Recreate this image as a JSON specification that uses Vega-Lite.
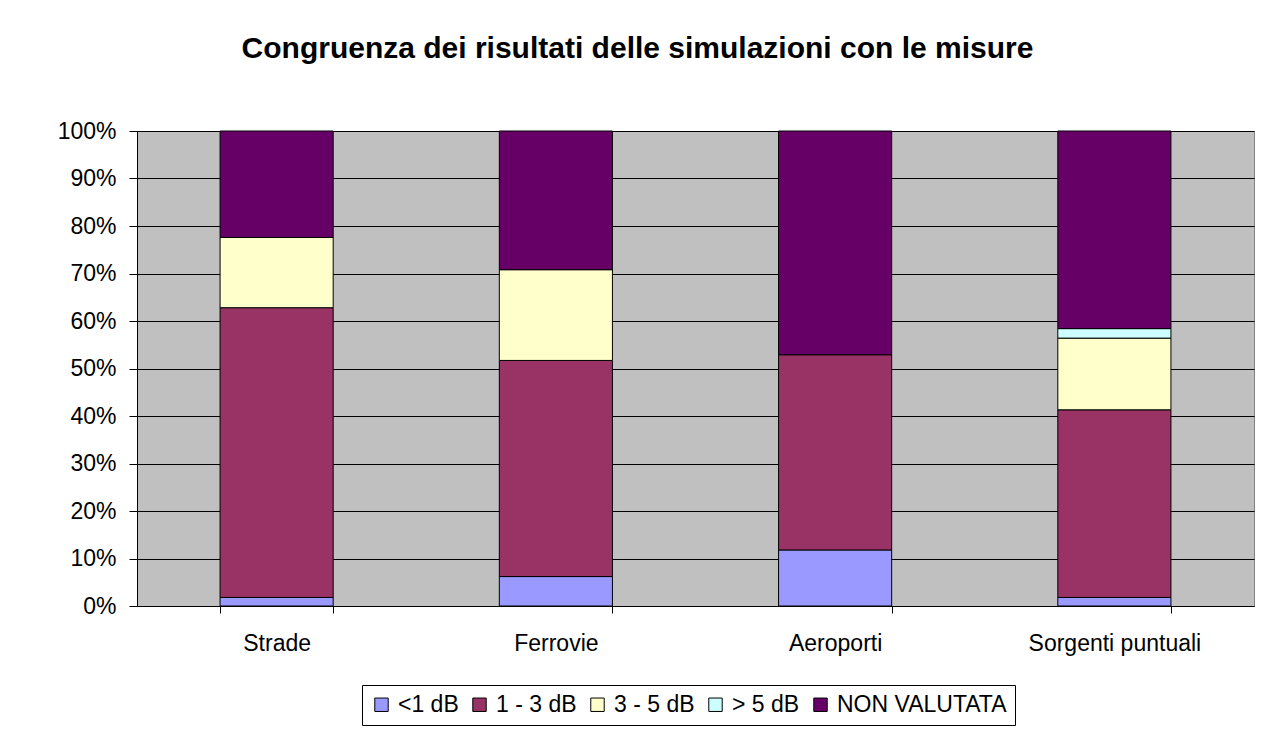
{
  "$schema": "https://vega.github.io/schema/vega-lite/v6.json",
  "autosize": {"type": "none"},
  "width": 1117,
  "height": 475,
  "padding": {"left": 137, "top": 131, "right": 17, "bottom": 125},
  "background": "white",
  "title": {
    "text": "Congruenza dei risultati delle simulazioni con le misure",
    "font": "Liberation Sans",
    "fontSize": 30,
    "fontWeight": "bold",
    "color": "black",
    "anchor": "middle",
    "frame": "group",
    "dx": -58,
    "offset": 56
  },
  "data": {
    "values": [
      {"fonte": "Strade", "classe": "<1 dB", "ord": 1, "valore": 1.8},
      {"fonte": "Strade", "classe": "1 - 3 dB", "ord": 2, "valore": 61.0},
      {"fonte": "Strade", "classe": "3 - 5 dB", "ord": 3, "valore": 14.8},
      {"fonte": "Strade", "classe": "> 5 dB", "ord": 4, "valore": 0},
      {"fonte": "Strade", "classe": "NON VALUTATA", "ord": 5, "valore": 22.4},
      {"fonte": "Ferrovie", "classe": "<1 dB", "ord": 1, "valore": 6.2},
      {"fonte": "Ferrovie", "classe": "1 - 3 dB", "ord": 2, "valore": 45.5},
      {"fonte": "Ferrovie", "classe": "3 - 5 dB", "ord": 3, "valore": 19.1},
      {"fonte": "Ferrovie", "classe": "> 5 dB", "ord": 4, "valore": 0},
      {"fonte": "Ferrovie", "classe": "NON VALUTATA", "ord": 5, "valore": 29.2},
      {"fonte": "Aeroporti", "classe": "<1 dB", "ord": 1, "valore": 11.8},
      {"fonte": "Aeroporti", "classe": "1 - 3 dB", "ord": 2, "valore": 41.1},
      {"fonte": "Aeroporti", "classe": "3 - 5 dB", "ord": 3, "valore": 0},
      {"fonte": "Aeroporti", "classe": "> 5 dB", "ord": 4, "valore": 0},
      {"fonte": "Aeroporti", "classe": "NON VALUTATA", "ord": 5, "valore": 47.1},
      {"fonte": "Sorgenti puntuali", "classe": "<1 dB", "ord": 1, "valore": 1.8},
      {"fonte": "Sorgenti puntuali", "classe": "1 - 3 dB", "ord": 2, "valore": 39.5},
      {"fonte": "Sorgenti puntuali", "classe": "3 - 5 dB", "ord": 3, "valore": 15.1},
      {"fonte": "Sorgenti puntuali", "classe": "> 5 dB", "ord": 4, "valore": 2.0},
      {"fonte": "Sorgenti puntuali", "classe": "NON VALUTATA", "ord": 5, "valore": 41.6}
    ]
  },
  "transform": [{"filter": "datum.valore > 0"}],
  "mark": {"type": "bar", "stroke": "black", "strokeWidth": 1, "opacity": 1},
  "encoding": {
    "x": {
      "field": "fonte",
      "type": "nominal",
      "sort": ["Strade", "Ferrovie", "Aeroporti", "Sorgenti puntuali"],
      "scale": {"paddingInner": 0.595, "paddingOuter": 0.2975},
      "axis": {
        "title": null,
        "labelAngle": 0,
        "labelFont": "Liberation Sans",
        "labelFontSize": 23,
        "labelColor": "black",
        "labelPadding": 19,
        "domainColor": "black",
        "tickColor": "black",
        "tickSize": 7,
        "tickBand": "extent",
        "grid": false
      }
    },
    "y": {
      "field": "valore",
      "type": "quantitative",
      "stack": "normalize",
      "scale": {"domain": [0, 1], "nice": false},
      "axis": {
        "title": null,
        "format": ".0%",
        "values": [0, 0.1, 0.2, 0.3, 0.4, 0.5, 0.6, 0.7, 0.8, 0.9, 1],
        "labelFont": "Liberation Sans",
        "labelFontSize": 23,
        "labelColor": "black",
        "labelPadding": 13,
        "domainColor": "black",
        "tickColor": "black",
        "tickSize": 8,
        "grid": true,
        "gridColor": "black",
        "gridOpacity": 1,
        "gridWidth": 1
      }
    },
    "color": {
      "field": "classe",
      "type": "nominal",
      "scale": {
        "domain": ["<1 dB", "1 - 3 dB", "3 - 5 dB", "> 5 dB", "NON VALUTATA"],
        "range": ["#9999FF", "#993366", "#FFFFCC", "#CCFFFF", "#660066"]
      },
      "legend": {
        "title": null,
        "orient": "none",
        "legendX": 225,
        "legendY": 554,
        "direction": "horizontal",
        "columns": 5,
        "symbolType": "square",
        "symbolSize": 180,
        "symbolStrokeColor": "black",
        "symbolStrokeWidth": 1,
        "symbolOpacity": 1,
        "labelFont": "Liberation Sans",
        "labelFontSize": 23,
        "labelColor": "black",
        "labelLimit": 300,
        "labelOffset": 5,
        "columnPadding": 9,
        "strokeColor": "black",
        "padding": 8,
        "fillColor": "white"
      }
    },
    "order": {"field": "ord", "type": "quantitative"}
  },
  "config": {
    "view": {"fill": "#C0C0C0", "stroke": "#808080", "strokeWidth": 1}
  }
}
